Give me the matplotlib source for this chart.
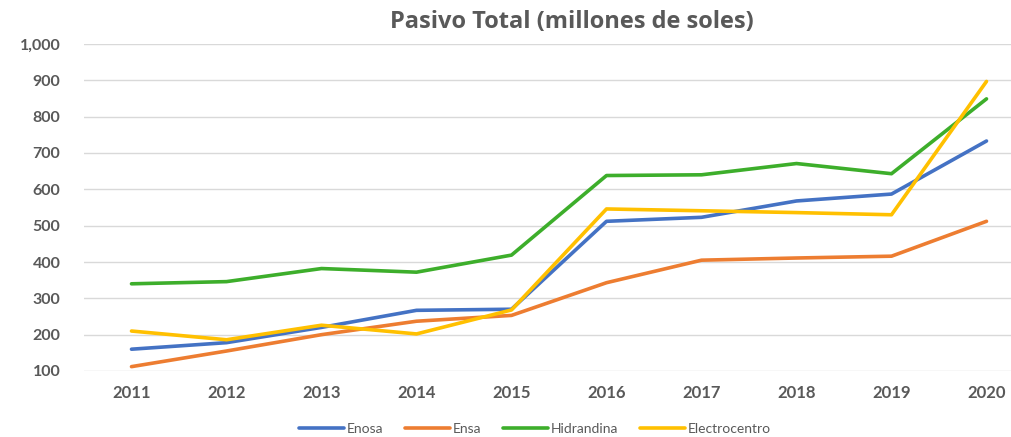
import matplotlib.pyplot as plt
from matplotlib.ticker import FuncFormatter

years = ["2011", "2012", "2013", "2014", "2015", "2016", "2017", "2018", "2019", "2020"]
enosa = [160, 178, 220, 267, 270, 512, 523, 568, 587, 733]
ensa = [112, 155, 200, 237, 253, 343, 405, 411, 416, 512]
hidrandina = [340, 346, 382, 372, 419, 638, 640, 671, 643, 849]
electrocentro = [210, 186, 226, 202, 268, 546, 541, 536, 530, 897]

series = [
    ("Enosa", enosa, "#4472C4"),
    ("Ensa", ensa, "#ED7D31"),
    ("Hidrandina", hidrandina, "#3DAE2B"),
    ("Electrocentro", electrocentro, "#FFC000"),
]

plt.rcParams['font.family'] = ['Lato', 'DejaVu Sans']
gray = "#595959"

fig = plt.figure(figsize=(10.12, 4.37), dpi=100)
ax = fig.add_axes([84 / 1012, 66 / 437, 950 / 1012, 327 / 437])

x = list(range(len(years)))
for name, vals, col in series:
    ax.plot(x, vals, color=col, linewidth=2.6, label=name, solid_capstyle='round')

ax.set_xlim(-0.5, 9.5)
ax.set_ylim(100, 1000)
ax.set_yticks(range(100, 1001, 100))
ax.yaxis.set_major_formatter(FuncFormatter(lambda v, p: f"{int(v):,}"))
ax.set_xticks(x)
ax.set_xticklabels(years)
ax.grid(axis='y', color='#D9D9D9', linewidth=1)
ax.set_axisbelow(True)
for s in ax.spines.values():
    s.set_visible(False)
ax.tick_params(axis='x', length=0, labelsize=12, labelcolor=gray, pad=10)
ax.tick_params(axis='y', length=0, labelsize=11.5, labelcolor=gray, pad=17)
for lab in ax.get_xticklabels() + ax.get_yticklabels():
    lab.set_fontweight('bold')

fig.text(572 / 1012, 1 - 22 / 437, "Pasivo Total (millones de soles)", ha='center', va='center',
         fontsize=17, fontweight='bold', color=gray, family=['Open Sans', 'DejaVu Sans'])

fig.legend(loc='center', bbox_to_anchor=(535 / 1012, 1 - 429 / 437), ncol=4, frameon=False,
           fontsize=10, handlelength=3.2, handletextpad=0.2, columnspacing=1.6, labelcolor=gray)

fig.savefig("out.png", dpi=100)
